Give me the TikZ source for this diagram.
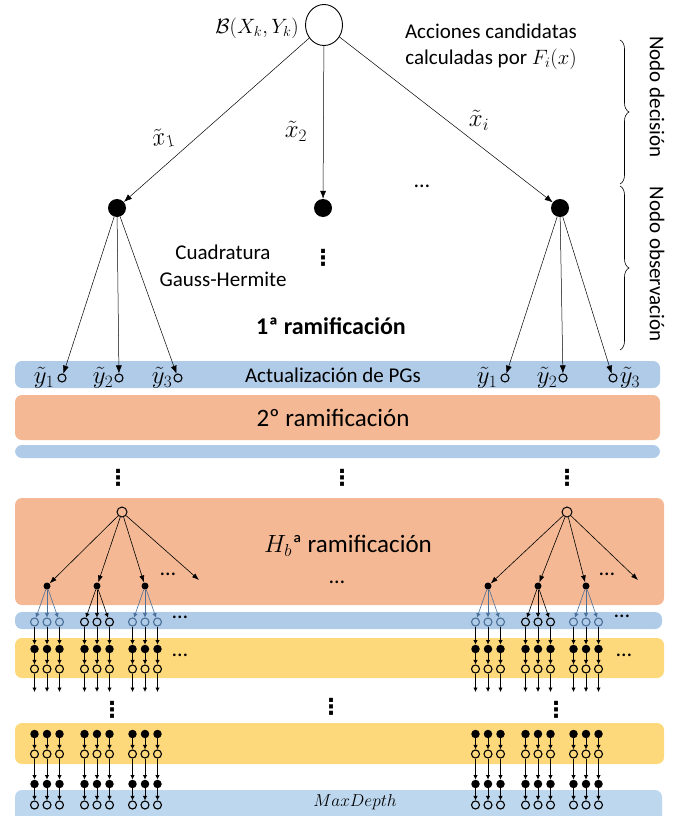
\documentclass[tikz,border=0pt]{standalone}
\usepackage{fontspec}
\setmainfont{Carlito}
\newfontfamily\dvfont{DejaVu Sans}
\usetikzlibrary{arrows.meta,decorations.pathreplacing,shapes.geometric}
\definecolor{bandblue}{HTML}{AFCBE8}
\definecolor{bandblue2}{HTML}{BDD7EE}
\definecolor{bandorange}{HTML}{F4B994}
\definecolor{bandyellow}{HTML}{FED97C}
\definecolor{gblue}{HTML}{4A6F98}
\tikzset{
  bigopen/.style={ellipse,draw,line width=0.9pt,minimum width=37pt,minimum height=41pt,inner sep=0pt},
  bigfill/.style={circle,fill=black,minimum size=18pt,inner sep=0pt},
  midopen/.style={circle,draw,line width=1pt,minimum size=10pt,inner sep=0pt},
  smopen/.style={circle,draw,line width=1.1pt,minimum size=8pt,inner sep=0pt},
  smfill/.style={circle,fill=black,minimum size=8.5pt,inner sep=0pt},
  tinyfill/.style={circle,fill=black,minimum size=7pt,inner sep=0pt},
  arr/.style={-{Latex[length=8pt,width=6pt]},line width=0.5pt},
  marr/.style={-{Latex[length=7pt,width=5pt]},line width=0.6pt},
  sarr/.style={-{Latex[length=4.5pt,width=4.5pt]},line width=0.8pt},
  band/.style={rounded corners=7pt},
  txt/.style={font=\fontsize{21}{24}\selectfont,inner sep=0pt},
  mtxt/.style={font=\fontsize{22}{24}\selectfont,inner sep=0pt},
  ytxt/.style={font=\fontsize{24}{26}\selectfont,inner sep=0pt},
  xtxt/.style={font=\fontsize{27}{29}\selectfont,inner sep=0pt},
  bigtxt/.style={font=\fontsize{25}{28}\selectfont,inner sep=0pt},
  dtxt/.style={font=\fontsize{22}{24}\selectfont,inner sep=0pt},
  vtxt/.style={font=\dvfont\bfseries\fontsize{22}{24}\selectfont,inner sep=0pt},
  brc/.style={decorate,decoration={brace,amplitude=9pt},line width=0.6pt},
}
\begin{document}
\begin{tikzpicture}[x=1pt,y=-1pt]
\useasboundingbox (0,0) rectangle (692,816);
% bands
\fill[bandblue,band] (15,361) rectangle (660,388);
\fill[bandorange,band] (15,395) rectangle (660,440);
\fill[bandblue,band] (15,445) rectangle (660,458);
\fill[bandorange,band] (15,498) rectangle (664,605);
\fill[bandblue,band] (15,612) rectangle (662,629);
\fill[bandyellow,band] (15,638) rectangle (664,678);
\fill[bandyellow,band] (15,723) rectangle (664,764);
\fill[bandblue2,band] (15,790) rectangle (662,830);
% top level
\node[bigopen] (root) at (324,25) {};
\node[mtxt,anchor=east] (blab) at (299,28) {$\mathcal{B}(X_k,Y_k)$};
\node[txt,align=center] (acc) at (491,47) {Acciones candidatas\\[2pt]calculadas por $F_i(x)$};
\node[bigfill] (n1) at (117,208) {};
\node[bigfill] (n2) at (323,208) {};
\node[bigfill] (n3) at (560,208) {};
\draw[arr] (root) -- (n1);
\draw[arr] (root) -- (n2);
\draw[arr] (root) -- (n3);
\node[xtxt,rotate=12] (lx1) at (163,138) {$\tilde{x}_1$};
\node[xtxt] (lx2) at (296,131) {$\tilde{x}_2$};
\node[xtxt] (lxi) at (479,120) {$\tilde{x}_i$};
\node[dtxt] (hd1) at (422,186) {\dots};
\node[vtxt] (vd1) at (323,258) {⋮};
\node[txt,align=center] (cgh) at (223,266) {Cuadratura\\[3pt]Gauss-Hermite};
\node[font=\bfseries\fontsize{24}{26}\selectfont,inner sep=0pt] (r1) at (331,326) {1ª ramificación};
% braces
\draw[brc] (620,40) -- (620,184);
\draw[brc] (620,186) -- (620,350);
\node[txt,rotate=-90] (nd) at (657,97) {Nodo decisión};
\node[txt,rotate=-90] (no) at (657,264) {Nodo observación};
% first observations
\foreach \cx/\k in {62/1,119/2,178/3}{
  \node[smopen] (ol\k) at (\cx,378) {};
  \draw[arr] (n1) -- (ol\k);
}
\foreach \cx/\k in {505/1,563/2,613/3}{
  \node[smopen] (or\k) at (\cx,378) {};
  \draw[arr] (n3) -- (or\k);
}
\node[ytxt,anchor=east] (yl1) at ([xshift=-3pt]ol1.west) {$\tilde{y}_1$};
\node[ytxt,anchor=east] (yl2) at ([xshift=-1pt]ol2.west) {$\tilde{y}_2$};
\node[ytxt,anchor=east] (yl3) at ([xshift=-1pt]ol3.west) {$\tilde{y}_3$};
\node[ytxt,anchor=east] (yr1) at ([xshift=-3pt]or1.west) {$\tilde{y}_1$};
\node[ytxt,anchor=east] (yr2) at ([xshift=-1pt]or2.west) {$\tilde{y}_2$};
\node[ytxt,anchor=west] (yr3) at ([xshift=2pt]or3.east) {$\tilde{y}_3$};
\node[txt] (apg) at (333,375) {Actualización de PGs};
\node[bigtxt] (r2) at (333,418) {2º ramificación};
% vertical dots
\node[vtxt] (vd2) at (118,478) {⋮};
\node[vtxt] (vd3) at (342,478) {⋮};
\node[vtxt] (vd4) at (567,478) {⋮};
% Hb level
\node[bigtxt] (rh) at (348,546) {$H_b$ª ramificación};
\node[dtxt] (hd2) at (337,582) {\dots};
\node[midopen] (t1) at (122,512) {};
\node[midopen] (t2) at (567,512) {};
\coordinate (e1) at (199,580);
\coordinate (e2) at (638,580);
\draw[marr] (t1) -- (e1);
\draw[marr] (t2) -- (e2);
\node[dtxt] (hd3) at (168,574) {\dots};
\node[dtxt] (hd4) at (607,574) {\dots};
\node[dtxt] (hd5) at (180,617) {\dots};
\node[dtxt] (hd6) at (180,655) {\dots};
\node[dtxt] (hd7) at (622,616) {\dots};
\node[dtxt] (hd8) at (624,655) {\dots};
\node[vtxt] (vd5) at (112,710) {⋮};
\node[vtxt] (vd6) at (331,707) {⋮};
\node[vtxt] (vd7) at (556,710) {⋮};
\node[font=\fontsize{18}{20}\selectfont,inner sep=0pt] (md) at (355,802) {$MaxDepth$};
% grid
\foreach \gx/\gc/\tp [count=\gi] in {47/gblue/t1,97/black/t1,145/gblue/t1,488/gblue/t2,538/black/t2,586/gblue/t2}{
  \node[tinyfill] (p\gi) at (\gx,586) {};
  \draw[marr] (\tp) -- (p\gi);
  \foreach \dx/\k in {-12.5/1,0/2,12.5/3}{
    \node[smopen,draw=\gc] (a\gi\k) at ({\gx+\dx},622) {};
    \draw[sarr,draw=\gc,line width=0.6pt] (p\gi) -- (a\gi\k);
    \node[smfill] (b\gi\k) at ({\gx+\dx},649) {};
    \node[smopen] (c\gi\k) at ({\gx+\dx},669) {};
    \coordinate (s\gi\k) at ({\gx+\dx},692);
    \node[smfill] (d\gi\k) at ({\gx+\dx},734) {};
    \node[smopen] (e\gi\k) at ({\gx+\dx},754) {};
    \node[smfill] (f\gi\k) at ({\gx+\dx},784) {};
    \node[smopen] (g\gi\k) at ({\gx+\dx},805) {};
    \draw[sarr] (a\gi\k) -- (b\gi\k);
    \draw[sarr] (b\gi\k) -- (c\gi\k);
    \draw[sarr] (c\gi\k) -- (s\gi\k);
    \draw[sarr] (d\gi\k) -- (e\gi\k);
    \draw[sarr] (e\gi\k) -- (f\gi\k);
    \draw[sarr] (f\gi\k) -- (g\gi\k);
  }
}
\end{tikzpicture}
\end{document}
